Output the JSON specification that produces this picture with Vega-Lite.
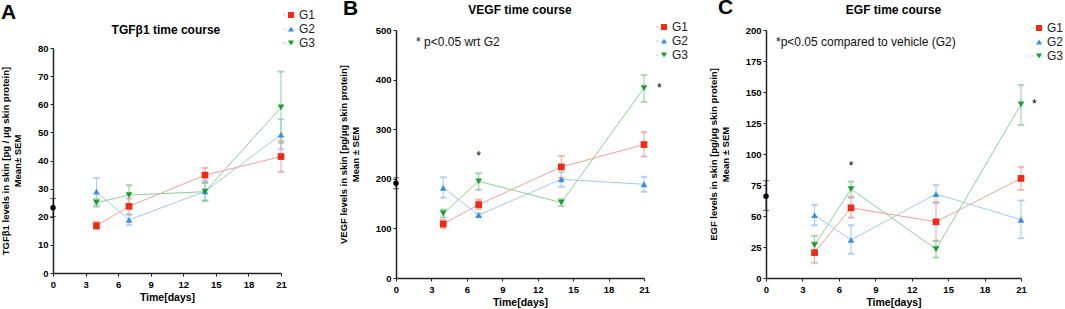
{
  "$schema": "https://vega.github.io/schema/vega-lite/v6.json",
  "bounds": "flush",
  "spacing": 122,
  "padding": {"left": 0, "top": -3, "right": 0, "bottom": 0},
  "autosize": {"type": "pad"},
  "resolve": {"scale": {"color": "independent", "shape": "independent", "stroke": "independent"}, "legend": {"color": "independent", "shape": "independent", "stroke": "independent"}},
  "datasets": {
    "pts": [
      {"p": "A", "g": "G1", "day": 4, "m": 16.8, "lo": 15.6, "hi": 18.2},
      {"p": "A", "g": "G1", "day": 7, "m": 23.7, "lo": 20.8, "hi": 26.5},
      {"p": "A", "g": "G1", "day": 14, "m": 34.8, "lo": 32.2, "hi": 37.4},
      {"p": "A", "g": "G1", "day": 21, "m": 41.4, "lo": 36, "hi": 47},
      {"p": "A", "g": "G2", "day": 4, "m": 28.9, "lo": 24.2, "hi": 33.8},
      {"p": "A", "g": "G2", "day": 7, "m": 18.9, "lo": 17, "hi": 20.8},
      {"p": "A", "g": "G2", "day": 14, "m": 29, "lo": 25.5, "hi": 32.8},
      {"p": "A", "g": "G2", "day": 21, "m": 49.2, "lo": 44, "hi": 54.6},
      {"p": "A", "g": "G3", "day": 4, "m": 25, "lo": 23.6, "hi": 26.3},
      {"p": "A", "g": "G3", "day": 7, "m": 27.7, "lo": 24.3, "hi": 31.2},
      {"p": "A", "g": "G3", "day": 14, "m": 28.9, "lo": 25.8, "hi": 32},
      {"p": "A", "g": "G3", "day": 21, "m": 58.9, "lo": 46.3, "hi": 71.6},
      {"p": "B", "g": "G1", "day": 4, "m": 109, "lo": 101, "hi": 117},
      {"p": "B", "g": "G1", "day": 7, "m": 148, "lo": 139, "hi": 158},
      {"p": "B", "g": "G1", "day": 14, "m": 224, "lo": 202, "hi": 246},
      {"p": "B", "g": "G1", "day": 21, "m": 269, "lo": 245, "hi": 294},
      {"p": "B", "g": "G2", "day": 4, "m": 182, "lo": 162, "hi": 203},
      {"p": "B", "g": "G2", "day": 7, "m": 127, "lo": 124, "hi": 130},
      {"p": "B", "g": "G2", "day": 14, "m": 199, "lo": 184, "hi": 214},
      {"p": "B", "g": "G2", "day": 21, "m": 189, "lo": 174, "hi": 204},
      {"p": "B", "g": "G3", "day": 4, "m": 130, "lo": 122, "hi": 138},
      {"p": "B", "g": "G3", "day": 7, "m": 195, "lo": 178, "hi": 211},
      {"p": "B", "g": "G3", "day": 14, "m": 152, "lo": 145, "hi": 159},
      {"p": "B", "g": "G3", "day": 21, "m": 383, "lo": 355, "hi": 409},
      {"p": "C", "g": "G1", "day": 4, "m": 20.5, "lo": 12.3, "hi": 28.8},
      {"p": "C", "g": "G1", "day": 7, "m": 56.6, "lo": 48.7, "hi": 64.5},
      {"p": "C", "g": "G1", "day": 14, "m": 45.3, "lo": 30, "hi": 61},
      {"p": "C", "g": "G1", "day": 21, "m": 80.3, "lo": 71, "hi": 89.6},
      {"p": "C", "g": "G2", "day": 4, "m": 50.7, "lo": 42.5, "hi": 59},
      {"p": "C", "g": "G2", "day": 7, "m": 30.7, "lo": 19.5, "hi": 42.5},
      {"p": "C", "g": "G2", "day": 14, "m": 67.7, "lo": 60.5, "hi": 75},
      {"p": "C", "g": "G2", "day": 21, "m": 47, "lo": 32, "hi": 62.5},
      {"p": "C", "g": "G3", "day": 4, "m": 26.4, "lo": 18.5, "hi": 34},
      {"p": "C", "g": "G3", "day": 7, "m": 71.7, "lo": 65.5, "hi": 77.7},
      {"p": "C", "g": "G3", "day": 14, "m": 23.2, "lo": 16.5, "hi": 30},
      {"p": "C", "g": "G3", "day": 21, "m": 140, "lo": 123.3, "hi": 155.6}
    ],
    "base": [
      {"p": "A", "day": 0, "m": 23.2, "lo": 20, "hi": 26.5},
      {"p": "B", "day": 0, "m": 191, "lo": 180, "hi": 202},
      {"p": "C", "day": 0, "m": 66, "lo": 54.5, "hi": 78.5}
    ],
    "letters": [
      {"p": "A", "day": -4.79, "v": 90.3, "t": "A"},
      {"p": "B", "day": -4.49, "v": 530, "t": "B"},
      {"p": "C", "day": -3.95, "v": 212.9, "t": "C"}
    ],
    "heads": [
      {"p": "A", "day": 10.4, "v": 85, "t": "TGFβ1 time course"},
      {"p": "B", "day": 10.5, "v": 532, "t": "VEGF time course"},
      {"p": "C", "day": 10.5, "v": 212.9, "t": "EGF time course"}
    ],
    "stars": [
      {"p": "B", "day": 7, "v": 252, "t": "*"},
      {"p": "B", "day": 22.3, "v": 389, "t": "*"},
      {"p": "C", "day": 7, "v": 92.5, "t": "*"},
      {"p": "C", "day": 22.1, "v": 143, "t": "*"}
    ],
    "notes": [
      {"p": "B", "day": 1.7, "v": 476, "t": "* p<0.05 wrt G2"},
      {"p": "C", "day": 0.82, "v": 190, "t": "*p<0.05 compared to vehicle (G2)"}
    ]
  },
  "hconcat": [
    {
      "width": 221,
      "height": 248,
      "layer": [
        {
          "data": {"name": "pts"},
          "transform": [{"filter": "datum.p === 'A'"}],
          "mark": {"type": "rule", "strokeWidth": 1},
          "encoding": {
            "x": {"field": "day", "type": "quantitative", "scale": {"domain": [0, 21], "range": [0, 228], "nice": false}, "axis": {"values": [0, 3, 6, 9, 12, 15, 18, 21], "format": "d", "tickCount": 40, "labelOverlap": false, "title": "Time[days]", "offset": -5}},
            "y": {"field": "lo", "type": "quantitative", "scale": {"domain": [0, 80], "range": [243, 18], "nice": false}, "axis": {"values": [0, 10, 20, 30, 40, 50, 60, 70, 80], "format": "d", "tickCount": 40, "labelOverlap": false, "title": ["TGFβ1 levels in skin [pg / μg skin protein]", "Mean± SEM"]}},
            "y2": {"field": "hi"},
            "stroke": {"field": "g", "type": "nominal", "scale": {"range": ["#f4a098", "#a3c9f0", "#8fcf98"]},
              "legend": {"orient": "none", "legendX": 229.5, "legendY": -21.5, "title": null, "symbolType": "M-1,0H-0.5M0.5,0H1", "symbolSize": 144, "symbolStrokeWidth": 1, "symbolOpacity": 1, "labelOpacity": 0, "rowPadding": 1}}
          }
        },
        {
          "data": {"name": "pts"},
          "transform": [{"filter": "datum.p === 'A'"}],
          "mark": {"type": "tick", "orient": "horizontal", "size": 6, "thickness": 1},
          "encoding": {"x": {"field": "day", "type": "quantitative"}, "y": {"field": "lo", "type": "quantitative"}, "stroke": {"field": "g", "type": "nominal"}}
        },
        {
          "data": {"name": "pts"},
          "transform": [{"filter": "datum.p === 'A'"}],
          "mark": {"type": "tick", "orient": "horizontal", "size": 6, "thickness": 1},
          "encoding": {"x": {"field": "day", "type": "quantitative"}, "y": {"field": "hi", "type": "quantitative"}, "stroke": {"field": "g", "type": "nominal"}}
        },
        {
          "data": {"name": "pts"},
          "transform": [{"filter": "datum.p === 'A'"}],
          "mark": {"type": "line", "strokeWidth": 1},
          "encoding": {"x": {"field": "day", "type": "quantitative"}, "y": {"field": "m", "type": "quantitative"}, "stroke": {"field": "g", "type": "nominal"}}
        },
        {
          "data": {"name": "pts"},
          "transform": [{"filter": "datum.p === 'A'"}],
          "mark": {"type": "point", "filled": true, "opacity": 1, "size": 45},
          "encoding": {
            "x": {"field": "day", "type": "quantitative"},
            "y": {"field": "m", "type": "quantitative"},
            "color": {"field": "g", "type": "nominal", "scale": {"domain": ["G1", "G2", "G3"], "range": ["#ee2b15", "#3d8fdf", "#1b9e30"]},
              "legend": {"orient": "none", "legendX": 232, "legendY": -21, "title": null, "symbolSize": 36, "symbolOpacity": 1, "labelOffset": 2, "rowPadding": 2}},
            "shape": {"field": "g", "type": "nominal", "scale": {"domain": ["G1", "G2", "G3"], "range": ["square", "triangle-up", "triangle-down"]},
              "legend": {"orient": "none", "legendX": 232, "legendY": -21, "title": null, "symbolSize": 36, "symbolOpacity": 1, "labelOffset": 2, "rowPadding": 2}}
          }
        },
        {
          "data": {"name": "base"},
          "transform": [{"filter": "datum.p === 'A'"}],
          "mark": {"type": "rule", "color": "#000", "strokeWidth": 1, "opacity": 0.6},
          "encoding": {"x": {"field": "day", "type": "quantitative"}, "y": {"field": "lo", "type": "quantitative"}, "y2": {"field": "hi"}}
        },
        {
          "data": {"name": "base"},
          "transform": [{"filter": "datum.p === 'A'"}],
          "mark": {"type": "tick", "orient": "horizontal", "size": 6, "thickness": 1, "color": "#000", "opacity": 0.6},
          "encoding": {"x": {"field": "day", "type": "quantitative"}, "y": {"field": "hi", "type": "quantitative"}}
        },
        {
          "data": {"name": "base"},
          "transform": [{"filter": "datum.p === 'A'"}],
          "mark": {"type": "tick", "orient": "horizontal", "size": 6, "thickness": 1, "color": "#000", "opacity": 0.6},
          "encoding": {"x": {"field": "day", "type": "quantitative"}, "y": {"field": "lo", "type": "quantitative"}}
        },
        {
          "data": {"name": "base"},
          "transform": [{"filter": "datum.p === 'A'"}],
          "mark": {"type": "point", "shape": "circle", "filled": true, "color": "#000", "opacity": 1, "size": 30},
          "encoding": {"x": {"field": "day", "type": "quantitative"}, "y": {"field": "m", "type": "quantitative"}}
        },
        {
          "data": {"name": "letters"},
          "transform": [{"filter": "datum.p === 'A'"}],
          "mark": {"type": "text", "fontSize": 21, "fontWeight": "bold", "align": "left", "baseline": "alphabetic", "color": "#000"},
          "encoding": {"x": {"field": "day", "type": "quantitative"}, "y": {"field": "v", "type": "quantitative"}, "text": {"field": "t"}}
        },
        {
          "data": {"name": "heads"},
          "transform": [{"filter": "datum.p === 'A'"}],
          "mark": {"type": "text", "fontSize": 12, "fontWeight": "bold", "align": "center", "baseline": "alphabetic", "color": "#000"},
          "encoding": {"x": {"field": "day", "type": "quantitative"}, "y": {"field": "v", "type": "quantitative"}, "text": {"field": "t"}}
        }
      ]
    },
    {
      "width": 248,
      "height": 248,
      "layer": [
        {
          "data": {"name": "pts"},
          "transform": [{"filter": "datum.p === 'B'"}],
          "mark": {"type": "rule", "strokeWidth": 1},
          "encoding": {
            "x": {"field": "day", "type": "quantitative", "scale": {"domain": [0, 21], "nice": false}, "axis": {"values": [0, 3, 6, 9, 12, 15, 18, 21], "format": "d", "tickCount": 40, "labelOverlap": false, "title": "Time[days]"}},
            "y": {"field": "lo", "type": "quantitative", "scale": {"domain": [0, 500], "nice": false}, "axis": {"values": [0, 100, 200, 300, 400, 500], "format": "d", "tickCount": 40, "labelOverlap": false, "title": ["VEGF levels in skin [pg/μg skin protein]", "Mean ± SEM"]}},
            "y2": {"field": "hi"},
            "stroke": {"field": "g", "type": "nominal", "scale": {"range": ["#f4a098", "#a3c9f0", "#8fcf98"]},
              "legend": {"orient": "none", "legendX": 259.5, "legendY": -9.5, "title": null, "symbolType": "M-1,0H-0.5M0.5,0H1", "symbolSize": 144, "symbolStrokeWidth": 1, "symbolOpacity": 1, "labelOpacity": 0, "rowPadding": 1}}
          }
        },
        {
          "data": {"name": "pts"},
          "transform": [{"filter": "datum.p === 'B'"}],
          "mark": {"type": "tick", "orient": "horizontal", "size": 6, "thickness": 1},
          "encoding": {"x": {"field": "day", "type": "quantitative"}, "y": {"field": "lo", "type": "quantitative"}, "stroke": {"field": "g", "type": "nominal"}}
        },
        {
          "data": {"name": "pts"},
          "transform": [{"filter": "datum.p === 'B'"}],
          "mark": {"type": "tick", "orient": "horizontal", "size": 6, "thickness": 1},
          "encoding": {"x": {"field": "day", "type": "quantitative"}, "y": {"field": "hi", "type": "quantitative"}, "stroke": {"field": "g", "type": "nominal"}}
        },
        {
          "data": {"name": "pts"},
          "transform": [{"filter": "datum.p === 'B'"}],
          "mark": {"type": "line", "strokeWidth": 1},
          "encoding": {"x": {"field": "day", "type": "quantitative"}, "y": {"field": "m", "type": "quantitative"}, "stroke": {"field": "g", "type": "nominal"}}
        },
        {
          "data": {"name": "pts"},
          "transform": [{"filter": "datum.p === 'B'"}],
          "mark": {"type": "point", "filled": true, "opacity": 1, "size": 45},
          "encoding": {
            "x": {"field": "day", "type": "quantitative"},
            "y": {"field": "m", "type": "quantitative"},
            "color": {"field": "g", "type": "nominal", "scale": {"domain": ["G1", "G2", "G3"], "range": ["#ee2b15", "#3d8fdf", "#1b9e30"]},
              "legend": {"orient": "none", "legendX": 262, "legendY": -9, "title": null, "symbolSize": 36, "symbolOpacity": 1, "labelOffset": 2, "rowPadding": 2}},
            "shape": {"field": "g", "type": "nominal", "scale": {"domain": ["G1", "G2", "G3"], "range": ["square", "triangle-up", "triangle-down"]},
              "legend": {"orient": "none", "legendX": 262, "legendY": -9, "title": null, "symbolSize": 36, "symbolOpacity": 1, "labelOffset": 2, "rowPadding": 2}}
          }
        },
        {
          "data": {"name": "base"},
          "transform": [{"filter": "datum.p === 'B'"}],
          "mark": {"type": "rule", "color": "#000", "strokeWidth": 1, "opacity": 0.6},
          "encoding": {"x": {"field": "day", "type": "quantitative"}, "y": {"field": "lo", "type": "quantitative"}, "y2": {"field": "hi"}}
        },
        {
          "data": {"name": "base"},
          "transform": [{"filter": "datum.p === 'B'"}],
          "mark": {"type": "tick", "orient": "horizontal", "size": 6, "thickness": 1, "color": "#000", "opacity": 0.6},
          "encoding": {"x": {"field": "day", "type": "quantitative"}, "y": {"field": "hi", "type": "quantitative"}}
        },
        {
          "data": {"name": "base"},
          "transform": [{"filter": "datum.p === 'B'"}],
          "mark": {"type": "tick", "orient": "horizontal", "size": 6, "thickness": 1, "color": "#000", "opacity": 0.6},
          "encoding": {"x": {"field": "day", "type": "quantitative"}, "y": {"field": "lo", "type": "quantitative"}}
        },
        {
          "data": {"name": "base"},
          "transform": [{"filter": "datum.p === 'B'"}],
          "mark": {"type": "point", "shape": "circle", "filled": true, "color": "#000", "opacity": 1, "size": 30},
          "encoding": {"x": {"field": "day", "type": "quantitative"}, "y": {"field": "m", "type": "quantitative"}}
        },
        {
          "data": {"name": "letters"},
          "transform": [{"filter": "datum.p === 'B'"}],
          "mark": {"type": "text", "fontSize": 21, "fontWeight": "bold", "align": "left", "baseline": "alphabetic", "color": "#000"},
          "encoding": {"x": {"field": "day", "type": "quantitative"}, "y": {"field": "v", "type": "quantitative"}, "text": {"field": "t"}}
        },
        {
          "data": {"name": "heads"},
          "transform": [{"filter": "datum.p === 'B'"}],
          "mark": {"type": "text", "fontSize": 12, "fontWeight": "bold", "align": "center", "baseline": "alphabetic", "color": "#000"},
          "encoding": {"x": {"field": "day", "type": "quantitative"}, "y": {"field": "v", "type": "quantitative"}, "text": {"field": "t"}}
        },
        {
          "data": {"name": "stars"},
          "transform": [{"filter": "datum.p === 'B'"}],
          "mark": {"type": "text", "fontSize": 12, "align": "center", "baseline": "middle", "dy": 3, "color": "#000"},
          "encoding": {"x": {"field": "day", "type": "quantitative"}, "y": {"field": "v", "type": "quantitative"}, "text": {"field": "t"}}
        },
        {
          "data": {"name": "notes"},
          "transform": [{"filter": "datum.p === 'B'"}],
          "mark": {"type": "text", "fontSize": 12, "align": "left", "baseline": "middle", "color": "#111"},
          "encoding": {"x": {"field": "day", "type": "quantitative"}, "y": {"field": "v", "type": "quantitative"}, "text": {"field": "t"}}
        }
      ]
    },
    {
      "width": 255,
      "height": 248,
      "layer": [
        {
          "data": {"name": "pts"},
          "transform": [{"filter": "datum.p === 'C'"}],
          "mark": {"type": "rule", "strokeWidth": 1},
          "encoding": {
            "x": {"field": "day", "type": "quantitative", "scale": {"domain": [0, 21], "nice": false}, "axis": {"values": [0, 3, 6, 9, 12, 15, 18, 21], "format": "d", "tickCount": 40, "labelOverlap": false, "title": "Time[days]"}},
            "y": {"field": "lo", "type": "quantitative", "scale": {"domain": [0, 200], "nice": false}, "axis": {"values": [0, 25, 50, 75, 100, 125, 150, 175, 200], "format": "d", "tickCount": 40, "labelOverlap": false, "title": ["EGF levels in skin [pg/μg skin protein]", "Mean ± SEM"]}},
            "y2": {"field": "hi"},
            "stroke": {"field": "g", "type": "nominal", "scale": {"range": ["#f4a098", "#a3c9f0", "#8fcf98"]},
              "legend": {"orient": "none", "legendX": 264.5, "legendY": -8.5, "title": null, "symbolType": "M-1,0H-0.5M0.5,0H1", "symbolSize": 144, "symbolStrokeWidth": 1, "symbolOpacity": 1, "labelOpacity": 0, "rowPadding": 1}}
          }
        },
        {
          "data": {"name": "pts"},
          "transform": [{"filter": "datum.p === 'C'"}],
          "mark": {"type": "tick", "orient": "horizontal", "size": 6, "thickness": 1},
          "encoding": {"x": {"field": "day", "type": "quantitative"}, "y": {"field": "lo", "type": "quantitative"}, "stroke": {"field": "g", "type": "nominal"}}
        },
        {
          "data": {"name": "pts"},
          "transform": [{"filter": "datum.p === 'C'"}],
          "mark": {"type": "tick", "orient": "horizontal", "size": 6, "thickness": 1},
          "encoding": {"x": {"field": "day", "type": "quantitative"}, "y": {"field": "hi", "type": "quantitative"}, "stroke": {"field": "g", "type": "nominal"}}
        },
        {
          "data": {"name": "pts"},
          "transform": [{"filter": "datum.p === 'C'"}],
          "mark": {"type": "line", "strokeWidth": 1},
          "encoding": {"x": {"field": "day", "type": "quantitative"}, "y": {"field": "m", "type": "quantitative"}, "stroke": {"field": "g", "type": "nominal"}}
        },
        {
          "data": {"name": "pts"},
          "transform": [{"filter": "datum.p === 'C'"}],
          "mark": {"type": "point", "filled": true, "opacity": 1, "size": 45},
          "encoding": {
            "x": {"field": "day", "type": "quantitative"},
            "y": {"field": "m", "type": "quantitative"},
            "color": {"field": "g", "type": "nominal", "scale": {"domain": ["G1", "G2", "G3"], "range": ["#ee2b15", "#3d8fdf", "#1b9e30"]},
              "legend": {"orient": "none", "legendX": 267, "legendY": -8, "title": null, "symbolSize": 36, "symbolOpacity": 1, "labelOffset": 2, "rowPadding": 2}},
            "shape": {"field": "g", "type": "nominal", "scale": {"domain": ["G1", "G2", "G3"], "range": ["square", "triangle-up", "triangle-down"]},
              "legend": {"orient": "none", "legendX": 267, "legendY": -8, "title": null, "symbolSize": 36, "symbolOpacity": 1, "labelOffset": 2, "rowPadding": 2}}
          }
        },
        {
          "data": {"name": "base"},
          "transform": [{"filter": "datum.p === 'C'"}],
          "mark": {"type": "rule", "color": "#000", "strokeWidth": 1, "opacity": 0.6},
          "encoding": {"x": {"field": "day", "type": "quantitative"}, "y": {"field": "lo", "type": "quantitative"}, "y2": {"field": "hi"}}
        },
        {
          "data": {"name": "base"},
          "transform": [{"filter": "datum.p === 'C'"}],
          "mark": {"type": "tick", "orient": "horizontal", "size": 6, "thickness": 1, "color": "#000", "opacity": 0.6},
          "encoding": {"x": {"field": "day", "type": "quantitative"}, "y": {"field": "hi", "type": "quantitative"}}
        },
        {
          "data": {"name": "base"},
          "transform": [{"filter": "datum.p === 'C'"}],
          "mark": {"type": "tick", "orient": "horizontal", "size": 6, "thickness": 1, "color": "#000", "opacity": 0.6},
          "encoding": {"x": {"field": "day", "type": "quantitative"}, "y": {"field": "lo", "type": "quantitative"}}
        },
        {
          "data": {"name": "base"},
          "transform": [{"filter": "datum.p === 'C'"}],
          "mark": {"type": "point", "shape": "circle", "filled": true, "color": "#000", "opacity": 1, "size": 30},
          "encoding": {"x": {"field": "day", "type": "quantitative"}, "y": {"field": "m", "type": "quantitative"}}
        },
        {
          "data": {"name": "letters"},
          "transform": [{"filter": "datum.p === 'C'"}],
          "mark": {"type": "text", "fontSize": 21, "fontWeight": "bold", "align": "left", "baseline": "alphabetic", "color": "#000"},
          "encoding": {"x": {"field": "day", "type": "quantitative"}, "y": {"field": "v", "type": "quantitative"}, "text": {"field": "t"}}
        },
        {
          "data": {"name": "heads"},
          "transform": [{"filter": "datum.p === 'C'"}],
          "mark": {"type": "text", "fontSize": 12, "fontWeight": "bold", "align": "center", "baseline": "alphabetic", "color": "#000"},
          "encoding": {"x": {"field": "day", "type": "quantitative"}, "y": {"field": "v", "type": "quantitative"}, "text": {"field": "t"}}
        },
        {
          "data": {"name": "stars"},
          "transform": [{"filter": "datum.p === 'C'"}],
          "mark": {"type": "text", "fontSize": 12, "align": "center", "baseline": "middle", "dy": 3, "color": "#000"},
          "encoding": {"x": {"field": "day", "type": "quantitative"}, "y": {"field": "v", "type": "quantitative"}, "text": {"field": "t"}}
        },
        {
          "data": {"name": "notes"},
          "transform": [{"filter": "datum.p === 'C'"}],
          "mark": {"type": "text", "fontSize": 12, "align": "left", "baseline": "middle", "color": "#111"},
          "encoding": {"x": {"field": "day", "type": "quantitative"}, "y": {"field": "v", "type": "quantitative"}, "text": {"field": "t"}}
        }
      ]
    }
  ],
  "config": {
    "font": "Liberation Sans",
    "view": {"stroke": null},
    "axis": {"grid": false, "labelFontSize": 9.5, "labelFontWeight": "bold", "labelColor": "#000", "labelOverlap": false, "titleFontSize": 10.5, "titleFontWeight": "bold", "titleColor": "#000", "domainColor": "#222", "domainWidth": 1.5, "tickColor": "#222", "tickSize": 3, "tickWidth": 1, "labelPadding": 2, "labelFlush": false},
    "axisY": {"titlePadding": 15, "titleFontSize": 9.5, "titleLineHeight": 12},
    "axisX": {"titlePadding": 4, "labelPadding": 3},
    "legend": {"labelFontSize": 12, "labelColor": "#222", "symbolOffset": 0}
  }
}
